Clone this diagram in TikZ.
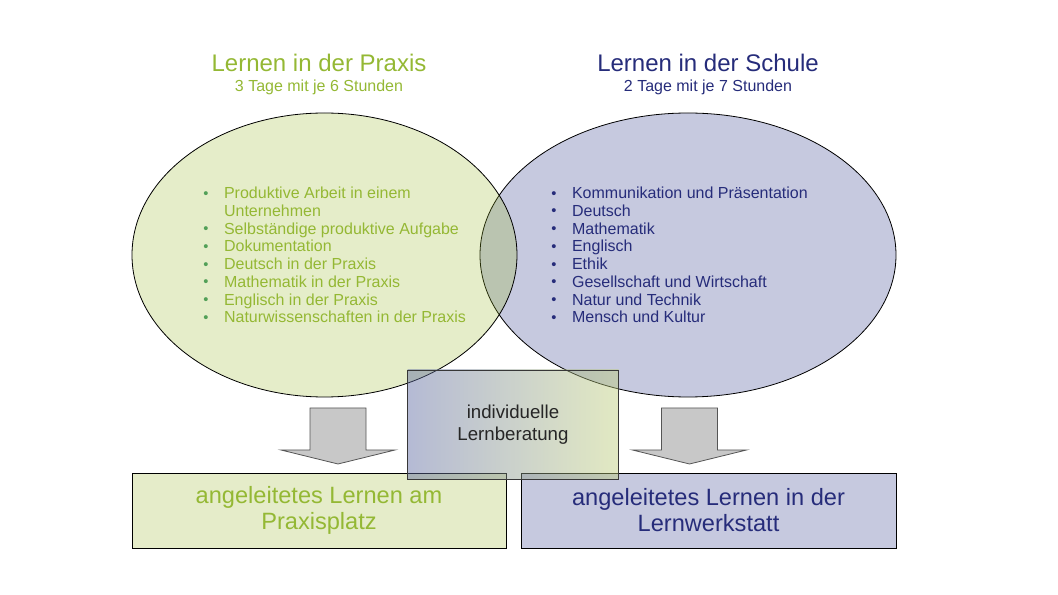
\documentclass[tikz,border=0pt]{standalone}
\usepackage{fontspec}
\setmainfont{Liberation Sans}
\usepackage{tikz}
\usetikzlibrary{positioning}
\usetikzlibrary{shapes.geometric}
\definecolor{grntext}{RGB}{148,184,52}
\definecolor{grnbul}{RGB}{82,160,88}
\definecolor{grnbase}{RGB}{153,183,39}
\definecolor{grnbox}{RGB}{229,236,201}
\definecolor{blutext}{RGB}{38,44,122}
\definecolor{blufill}{RGB}{198,201,223}
\definecolor{mblau}{RGB}{90,102,160}
\definecolor{mgruen}{RGB}{190,206,120}
\definecolor{mrand}{RGB}{55,55,55}
\definecolor{pfeilgrau}{RGB}{200,200,200}
\definecolor{pfeilrand}{RGB}{85,85,85}
\newcommand{\pkt}[1]{\makebox[15.6pt][l]{\raisebox{0.3pt}{\textcolor{#1}{\fontsize{11}{11}\selectfont •}}}}
\tikzset{
    venn diagram/.style={
            x=0.75pt,y=-0.75pt,
            kreis/.style={ellipse,draw,line width=0.6pt,inner sep=0pt,outer sep=0pt},
            kasten/.style={rectangle,draw,line width=0.6pt,inner sep=0pt,outer sep=0pt,align=center},
            pfeil/.style={draw=pfeilrand,fill=pfeilgrau,line width=0.6pt,line join=miter},
            titel/.style={inner sep=0pt,font=\fontsize{18}{20}\selectfont},
            untertitel/.style={inner sep=0pt,font=\fontsize{12}{14}\selectfont},
            liste/.style={inner sep=0pt,anchor=west,align=left,font=\fontsize{12}{13.3}\selectfont}
        }
    }

\begin{document}
\begin{tikzpicture}[venn diagram]
    \useasboundingbox (0,0) rectangle (1058,595);
    % Kreise
    \node (s) [kreis,fill=blufill,minimum width=312pt,minimum height=213pt] at (688,255) {};
    \node (p) [kreis,fill=grnbase,fill opacity=0.25,minimum width=288.75pt,minimum height=213pt] at (324.5,255) {};
    % Titel
    \node (pt) [titel,text=grntext] at (319,63) {Lernen in der Praxis};
    \node (pu) [untertitel,text=grntext,below=6pt of pt] {3 Tage mit je 6 Stunden};
    \node (st) [titel,text=blutext] at (708,63) {Lernen in der Schule};
    \node (su) [untertitel,text=blutext,below=6pt of st] {2 Tage mit je 7 Stunden};
    % Listen
    \node (pl) [liste,text=grntext] at (203,255) {\pkt{grnbul}Produktive Arbeit in einem\\
        \hspace*{15.6pt}Unternehmen\\
        \pkt{grnbul}Selbständige produktive Aufgabe\\
        \pkt{grnbul}Dokumentation\\
        \pkt{grnbul}Deutsch in der Praxis\\
        \pkt{grnbul}Mathematik in der Praxis\\
        \pkt{grnbul}Englisch in der Praxis\\
        \pkt{grnbul}Naturwissenschaften in der Praxis};
    \node (sl) [liste,text=blutext] at (551,255) {\pkt{blutext}Kommunikation und Präsentation\\
        \pkt{blutext}Deutsch\\
        \pkt{blutext}Mathematik\\
        \pkt{blutext}Englisch\\
        \pkt{blutext}Ethik\\
        \pkt{blutext}Gesellschaft und Wirtschaft\\
        \pkt{blutext}Natur und Technik\\
        \pkt{blutext}Mensch und Kultur};
    % Pfeile
    \coordinate (pa) at (338,408);
    \coordinate (sa) at (689.5,408);
    \foreach \k in {pa,sa}
        \draw [pfeil] (\k) ++(-28,0) -- ++(56,0) -- ++(0,42) -- ++(29,0) -- ++(-57,14) -- ++(-57,-14) -- ++(29,0) -- cycle;
    % Kaesten
    \node (pb) [kasten,fill=grnbox,text=grntext,font=\fontsize{17.7}{19.5}\selectfont,minimum width=280.5pt,minimum height=56.25pt] at (319,510.5) {angeleitetes Lernen am\\Praxisplatz};
    \node (sb) [kasten,fill=blufill,text=blutext,font=\fontsize{17.7}{19.5}\selectfont,minimum width=281.25pt,minimum height=56.25pt] at (708.5,510.5) {angeleitetes Lernen in der\\Lernwerkstatt};
    \node (m) [kasten,draw=mrand,left color=mblau,right color=mgruen,fill opacity=0.45,text opacity=1,text=black!85,font=\fontsize{14}{16.5}\selectfont,minimum width=158.25pt,minimum height=81.75pt] at (513,424.5) {individuelle\\Lernberatung};
\end{tikzpicture}
\end{document}
